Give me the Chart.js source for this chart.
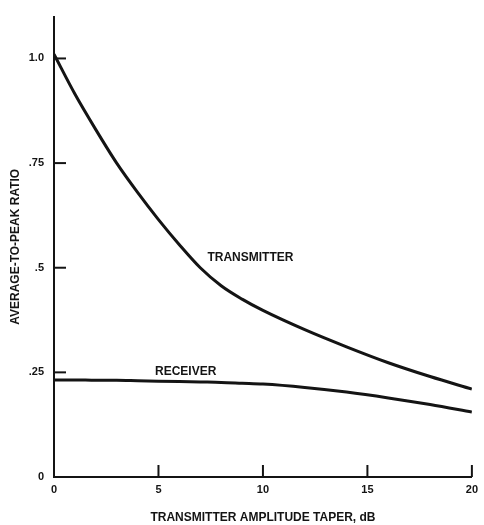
<!DOCTYPE html>
<html>
<head>
<meta charset="utf-8">
<script src="https://cdn.jsdelivr.net/npm/chart.js@4"></script>
<style>
  html, body { margin: 0; padding: 0; background: #fff; }
  #wrap { width: 484px; height: 525px; }
</style>
</head>
<body>
<div id="wrap"><canvas id="taper-chart" width="484" height="525"></canvas></div>
<script>
// values
const taperDb = [0, 1, 2, 3, 4, 5, 6, 7, 8, 9, 10, 12, 14, 16, 18, 20];
const transmitter = [1.01, 0.915, 0.83, 0.75, 0.68, 0.615, 0.555, 0.50, 0.457, 0.425, 0.398, 0.352, 0.311, 0.273, 0.24, 0.21];
const receiver = [0.232, 0.232, 0.231, 0.231, 0.230, 0.229, 0.228, 0.227, 0.226, 0.224, 0.222, 0.214, 0.203, 0.189, 0.173, 0.155];
const yTicks = [0, 0.25, 0.5, 0.75, 1.0];
const yTickLabels = ['0', '.25', '.5', '.75', '1.0'];
const xTicks = [0, 5, 10, 15, 20];

const ink = '#141414';
const font = "'Liberation Sans', Arial, sans-serif";

function toPoints(ys) {
    return taperDb.map((x, i) => ({ x: x, y: ys[i] }));
}

// short tick marks drawn inward from the axes, plus curve labels
const inkPlugin = {
    id: 'inkPlugin',
    afterDraw(chart) {
        const ctx = chart.ctx;
        const xs = chart.scales.x;
        const ys = chart.scales.y;
        ctx.save();
        ctx.strokeStyle = ink;
        ctx.lineWidth = 2;
        xTicks.slice(1).forEach(v => {
            const px = xs.getPixelForValue(v);
            ctx.beginPath();
            ctx.moveTo(px, ys.bottom);
            ctx.lineTo(px, ys.bottom - 12);
            ctx.stroke();
        });
        yTicks.slice(1).forEach(v => {
            const py = ys.getPixelForValue(v);
            ctx.beginPath();
            ctx.moveTo(xs.left, py);
            ctx.lineTo(xs.left + 12, py);
            ctx.stroke();
        });
        ctx.fillStyle = ink;
        ctx.font = 'bold 12px ' + font;
        ctx.textAlign = 'center';
        ctx.textBaseline = 'middle';
        ctx.fillText('TRANSMITTER', xs.getPixelForValue(9.4), ys.getPixelForValue(0.525));
        ctx.fillText('RECEIVER', xs.getPixelForValue(6.3), ys.getPixelForValue(0.252));
        ctx.restore();
    }
};

new Chart(document.getElementById('taper-chart').getContext('2d'), {
    type: 'line',
    data: {
        datasets: [
            {
                label: 'Transmitter',
                data: toPoints(transmitter),
                borderColor: ink,
                borderWidth: 3,
                pointRadius: 0,
                cubicInterpolationMode: 'monotone'
            },
            {
                label: 'Receiver',
                data: toPoints(receiver),
                borderColor: ink,
                borderWidth: 3,
                pointRadius: 0,
                cubicInterpolationMode: 'monotone'
            }
        ]
    },
    options: {
        responsive: false,
        animation: false,
        events: [],
        layout: { padding: { top: 10, right: 8, left: 0, bottom: 0 } },
        plugins: {
            legend: { display: false },
            tooltip: { enabled: false }
        },
        scales: {
            x: {
                type: 'linear',
                min: 0,
                max: 20,
                afterBuildTicks: s => { s.ticks = xTicks.map(v => ({ value: v })); },
                afterFit: s => { s.height = 48; },
                grid: { display: false, drawTicks: false },
                border: { display: true, color: ink, width: 2 },
                ticks: {
                    color: ink,
                    padding: 6,
                    maxRotation: 0,
                    font: { family: font, size: 11, weight: 'bold' }
                },
                title: {
                    display: true,
                    text: 'TRANSMITTER AMPLITUDE TAPER, dB',
                    color: ink,
                    padding: { top: 8, bottom: 0 },
                    font: { family: font, size: 12, weight: 'bold' }
                }
            },
            y: {
                min: 0,
                max: 1.1,
                afterBuildTicks: s => { s.ticks = yTicks.map(v => ({ value: v })); },
                afterFit: s => { s.width = 54; },
                grid: { display: false, drawTicks: false },
                border: { display: true, color: ink, width: 2 },
                ticks: {
                    color: ink,
                    padding: 10,
                    callback: v => yTickLabels[yTicks.indexOf(v)],
                    font: { family: font, size: 11, weight: 'bold' }
                },
                title: {
                    display: true,
                    text: 'AVERAGE-TO-PEAK RATIO',
                    color: ink,
                    padding: { top: 8, bottom: 0 },
                    font: { family: font, size: 12, weight: 'bold' }
                }
            }
        }
    },
    plugins: [inkPlugin]
});
</script>
</body>
</html>
